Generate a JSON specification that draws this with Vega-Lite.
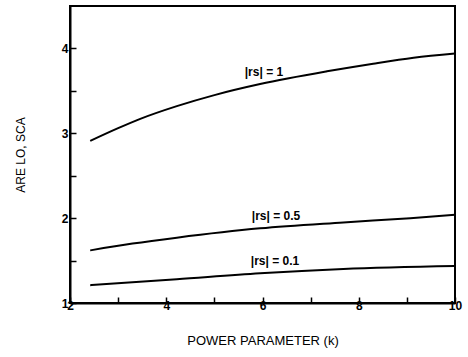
{
  "$schema": "https://vega.github.io/schema/vega-lite/v6.json",
  "width": 385,
  "height": 297,
  "autosize": "none",
  "padding": {"left": 70, "top": 6, "right": 13, "bottom": 54},
  "background": "white",
  "config": {
    "view": {"stroke": "black", "strokeWidth": 2},
    "font": "Liberation Sans",
    "axis": {
      "grid": false,
      "domainColor": "black",
      "domainWidth": 2,
      "tickColor": "black",
      "tickWidth": 1.5,
      "labelColor": "black",
      "titleColor": "black",
      "labelFont": "Liberation Sans",
      "titleFont": "Liberation Sans",
      "labelFontWeight": "bold",
      "titleFontWeight": "normal",
      "labelFontSize": 12,
      "titleFontSize": 12
    }
  },
  "layer": [
    {
      "data": {
        "values": [
          {"series": "1", "k": 2.42, "are": 2.91},
          {"series": "1", "k": 3.0, "are": 3.06},
          {"series": "1", "k": 3.46, "are": 3.17},
          {"series": "1", "k": 4.22, "are": 3.32},
          {"series": "1", "k": 5.0, "are": 3.45},
          {"series": "1", "k": 5.95, "are": 3.58},
          {"series": "1", "k": 7.34, "are": 3.73},
          {"series": "1", "k": 8.3, "are": 3.82},
          {"series": "1", "k": 9.14, "are": 3.89},
          {"series": "1", "k": 10.0, "are": 3.94},
          {"series": "0.5", "k": 2.42, "are": 1.62},
          {"series": "0.5", "k": 3.3, "are": 1.70},
          {"series": "0.5", "k": 4.22, "are": 1.77},
          {"series": "0.5", "k": 5.95, "are": 1.88},
          {"series": "0.5", "k": 7.68, "are": 1.95},
          {"series": "0.5", "k": 9.07, "are": 2.00},
          {"series": "0.5", "k": 10.0, "are": 2.04},
          {"series": "0.1", "k": 2.42, "are": 1.21},
          {"series": "0.1", "k": 4.22, "are": 1.28},
          {"series": "0.1", "k": 5.95, "are": 1.35},
          {"series": "0.1", "k": 7.68, "are": 1.40},
          {"series": "0.1", "k": 10.0, "are": 1.435}
        ]
      },
      "mark": {"type": "line", "color": "black", "strokeWidth": 2, "interpolate": "monotone"},
      "encoding": {
        "x": {
          "field": "k", "type": "quantitative",
          "scale": {"domain": [2, 10], "nice": false},
          "axis": {
            "title": "POWER  PARAMETER  (k)",
            "titleFontSize": 13,
            "values": [2, 3, 4, 5, 6, 7, 8, 9, 10],
            "labelExpr": "datum.value % 2 == 0 ? format(datum.value, 'd') : ''",
            "tickSize": -6,
            "labelPadding": 3,
            "titlePadding": 23,
            "labelFlush": false
          }
        },
        "y": {
          "field": "are", "type": "quantitative",
          "scale": {"domain": [1, 4.5], "nice": false},
          "axis": {
            "title": "ARE  LO, SCA",
            "values": [1, 1.5, 2, 2.5, 3, 3.5, 4],
            "labelExpr": "datum.value % 1 == 0 ? format(datum.value, 'd') : ''",
            "tickSize": -6,
            "labelPadding": 8,
            "titlePadding": 34,
            "labelFlush": false
          }
        },
        "detail": {"field": "series"}
      }
    },
    {
      "data": {
        "values": [
          {"label": "|rs| = 1", "k": 6.03, "are": 3.72},
          {"label": "|rs| = 0.5", "k": 6.28, "are": 2.02},
          {"label": "|rs| = 0.1", "k": 6.26, "are": 1.49}
        ]
      },
      "mark": {"type": "text", "color": "black", "fontSize": 12, "font": "Liberation Sans", "fontWeight": "bold", "baseline": "middle", "align": "center"},
      "encoding": {
        "x": {"field": "k", "type": "quantitative"},
        "y": {"field": "are", "type": "quantitative"},
        "text": {"field": "label"}
      }
    }
  ]
}
